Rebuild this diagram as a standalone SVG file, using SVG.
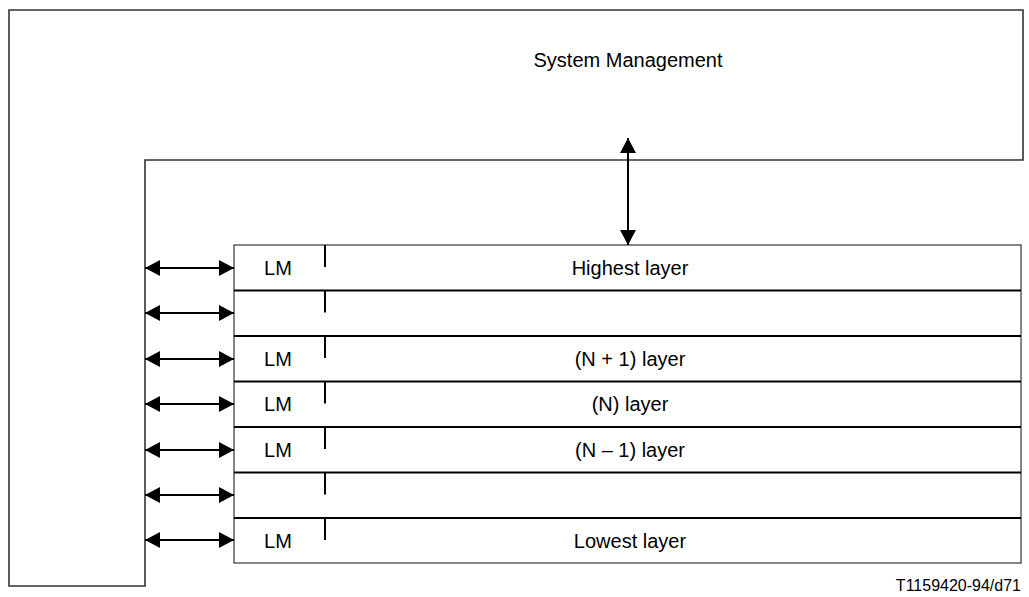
<svg xmlns="http://www.w3.org/2000/svg" width="1029" height="597" viewBox="0 0 1029 597">
<style>
.t{font-family:"Liberation Sans",Arial,sans-serif;font-size:20px;fill:#000}
.o{fill:none;stroke:#333;stroke-width:1.6}
.b{fill:none;stroke:#444;stroke-width:1.3}
.d{stroke:#000;stroke-width:2}
.a{stroke:#000;stroke-width:2;fill:none;marker-start:url(#ah);marker-end:url(#ah)}
</style>
<defs>
<marker id="ah" viewBox="0 0 15 16" refX="15" refY="8" markerWidth="15" markerHeight="16" markerUnits="userSpaceOnUse" orient="auto-start-reverse">
<path d="M0,0 L15,8 L0,16 Z" fill="#000"/>
</marker>
</defs>
<g id="system-management">
<path class="o" d="M9,10 H1023 V160 H145 V586 H9 Z"/>
<text class="t" x="628" y="67" text-anchor="middle">System Management</text>
</g>
<g id="layers">
<rect class="b" x="234" y="245" width="787" height="318"/>
</g>
<g id="layer-1">
<line class="d" x1="325" y1="245" x2="325" y2="267"/>
<text class="t" x="278" y="275" text-anchor="middle">LM</text>
<text class="t" x="630" y="275" text-anchor="middle">Highest layer</text>
</g>
<g id="layer-2">
<line class="d" x1="234" y1="290.5" x2="1021" y2="290.5"/>
<line class="d" x1="325" y1="290.5" x2="325" y2="312.5"/>
</g>
<g id="layer-3">
<line class="d" x1="234" y1="336" x2="1021" y2="336"/>
<line class="d" x1="325" y1="336" x2="325" y2="358"/>
<text class="t" x="278" y="366" text-anchor="middle">LM</text>
<text class="t" x="630" y="366" text-anchor="middle">(N + 1) layer</text>
</g>
<g id="layer-4">
<line class="d" x1="234" y1="381.5" x2="1021" y2="381.5"/>
<line class="d" x1="325" y1="381.5" x2="325" y2="403.5"/>
<text class="t" x="278" y="411" text-anchor="middle">LM</text>
<text class="t" x="630" y="411" text-anchor="middle">(N) layer</text>
</g>
<g id="layer-5">
<line class="d" x1="234" y1="427" x2="1021" y2="427"/>
<line class="d" x1="325" y1="427" x2="325" y2="449"/>
<text class="t" x="278" y="457" text-anchor="middle">LM</text>
<text class="t" x="630" y="457" text-anchor="middle">(N – 1) layer</text>
</g>
<g id="layer-6">
<line class="d" x1="234" y1="472.5" x2="1021" y2="472.5"/>
<line class="d" x1="325" y1="472.5" x2="325" y2="494.5"/>
</g>
<g id="layer-7">
<line class="d" x1="234" y1="518" x2="1021" y2="518"/>
<line class="d" x1="325" y1="518" x2="325" y2="540"/>
<text class="t" x="278" y="548" text-anchor="middle">LM</text>
<text class="t" x="630" y="548" text-anchor="middle">Lowest layer</text>
</g>
<g id="connectors">
<line class="a" x1="628" y1="138" x2="628" y2="245"/>
<line class="a" x1="145" y1="268" x2="234" y2="268"/>
<line class="a" x1="145" y1="313" x2="234" y2="313"/>
<line class="a" x1="145" y1="359" x2="234" y2="359"/>
<line class="a" x1="145" y1="404" x2="234" y2="404"/>
<line class="a" x1="145" y1="450" x2="234" y2="450"/>
<line class="a" x1="145" y1="495" x2="234" y2="495"/>
<line class="a" x1="145" y1="540" x2="234" y2="540"/>
</g>
<text class="t" x="1021" y="591" text-anchor="end" style="font-size:16px">T1159420-94/d71</text>
</svg>
